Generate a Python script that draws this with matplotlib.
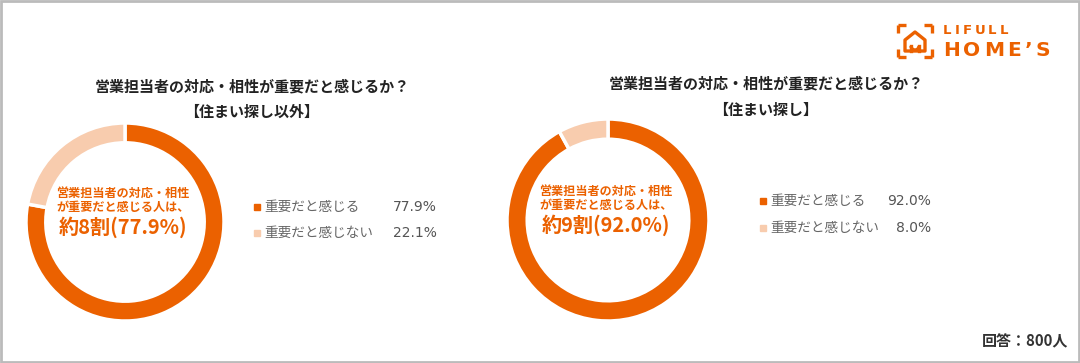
import numpy as np
import matplotlib.pyplot as plt
from matplotlib.patches import Rectangle, Polygon, Arc

plt.rcParams['font.family'] = ['Noto Sans CJK JP', 'DejaVu Sans']

W, H = 1080, 363

labels = ['重要だと感じる', '重要だと感じない']
other_vals = [77.9, 22.1]
search_vals = [92.0, 8.0]
titles = ['営業担当者の対応・相性が重要だと感じるか？\n【住まい探し以外】',
          '営業担当者の対応・相性が重要だと感じるか？\n【住まい探し】']
center_small = '営業担当者の対応・相性\nが重要だと感じる人は、'
center_big = ['約8割(77.9%)', '約9割(92.0%)']

ORANGE = '#EB6100'
LIGHT = '#F8CCAE'
colors = [ORANGE, LIGHT]

fig = plt.figure(figsize=(W / 100, H / 100), dpi=100)
bg = fig.add_axes([0, 0, 1, 1])
bg.set_xlim(0, W)
bg.set_ylim(H, 0)
bg.axis('off')
bg.add_patch(Rectangle((1, 1), W - 2, H - 2, fill=False, edgecolor='#BBBBBB', lw=2))


def donut(cx, cy, r, vals):
    ax = fig.add_axes([(cx - r) / W, 1 - (cy + r) / H, 2 * r / W, 2 * r / H])
    ax.pie(vals, colors=colors, startangle=90, counterclock=False,
           wedgeprops=dict(width=0.2, edgecolor='white', linewidth=2.5))
    ax.set_xlim(-1.01, 1.01)
    ax.set_ylim(-1.01, 1.01)
    ax.set_aspect('equal')
    return ax


panels = [
    dict(cx=125, cy=222, r=100, vals=other_vals, tx=252, ty=(86, 112),
         lx=257, ly=(207, 233), px=437),
    dict(cx=608, cy=220, r=102, vals=search_vals, tx=766, ty=(83, 110),
         lx=763, ly=(201, 228), px=931),
]

for i, p in enumerate(panels):
    donut(p['cx'], p['cy'], p['r'], p['vals'])
    t1, t2 = titles[i].split('\n')
    bg.text(p['tx'], p['ty'][0], t1, ha='center', va='center', fontsize=10.8,
            fontweight='bold', color='#222222')
    bg.text(p['tx'], p['ty'][1], t2, ha='center', va='center', fontsize=10.8,
            fontweight='bold', color='#222222')
    bg.text(p['cx'] - 2, p['cy'] - 22, center_small, ha='center', va='center',
            fontsize=8.7, color=ORANGE, linespacing=1.1, fontweight='bold')
    bg.text(p['cx'] - 2, p['cy'] + 5, center_big[i], ha='center', va='center',
            fontsize=14.5, color=ORANGE, fontweight='bold')
    for j, lab in enumerate(labels):
        y = p['ly'][j]
        bg.add_patch(Rectangle((p['lx'] - 3, y - 3), 6, 6, color=colors[j]))
        bg.text(p['lx'] + 7, y, lab, ha='left', va='center', fontsize=9.8,
                color='#666666')
        bg.text(p['px'], y, f"{p['vals'][j]:.1f}%", ha='right', va='center',
                fontsize=10, color='#555555', family='DejaVu Sans')

# logo
lx0, ly0 = 898, 25
lw = 2.4
for (x0, y0, dx, dy) in [(0, 0, 1, 1), (34, 0, -1, 1), (0, 32, 1, -1), (34, 32, -1, -1)]:
    bg.plot([lx0 + x0, lx0 + x0 + 8 * dx], [ly0 + y0, ly0 + y0], color=ORANGE, lw=lw,
            solid_capstyle='butt')
    bg.plot([lx0 + x0, lx0 + x0], [ly0 + y0, ly0 + y0 + 8 * dy], color=ORANGE, lw=lw,
            solid_capstyle='butt')
bg.add_patch(Polygon([(lx0 + 7, ly0 + 26), (lx0 + 7, ly0 + 15), (lx0 + 17, ly0 + 7),
                      (lx0 + 27, ly0 + 15), (lx0 + 27, ly0 + 26)], closed=True,
                     fill=False, edgecolor=ORANGE, lw=lw, joinstyle='round'))
bg.add_patch(Arc((lx0 + 17, ly0 + 21), 8, 8, theta1=0, theta2=180, color=ORANGE, lw=lw))
bg.plot([lx0 + 13, lx0 + 13], [ly0 + 21, ly0 + 26], color=ORANGE, lw=lw)
bg.plot([lx0 + 21, lx0 + 21], [ly0 + 21, ly0 + 26], color=ORANGE, lw=lw)
lifull_x = [943, 954.4, 962.3, 974.3, 988, 999.4]
for x, ch in zip(lifull_x, 'LIFULL'):
    bg.text(x, ly0 + 6, ch, ha='left', va='center', fontsize=9.5,
            fontweight='bold', color=ORANGE, family='DejaVu Sans')
home_x = [943, 963.3, 983.9, 1007.4, 1024.6, 1035.1]
for x, ch in zip(home_x, "HOME’S"):
    bg.text(x, ly0 + 25, ch, ha='left', va='center', fontsize=14.5,
            fontweight='bold', color=ORANGE, family='DejaVu Sans')

bg.text(1068, 341, '回答：800人', ha='right', va='center', fontsize=10.8,
        fontweight='bold', color='#333333')

fig.savefig('out.png', dpi=100)
